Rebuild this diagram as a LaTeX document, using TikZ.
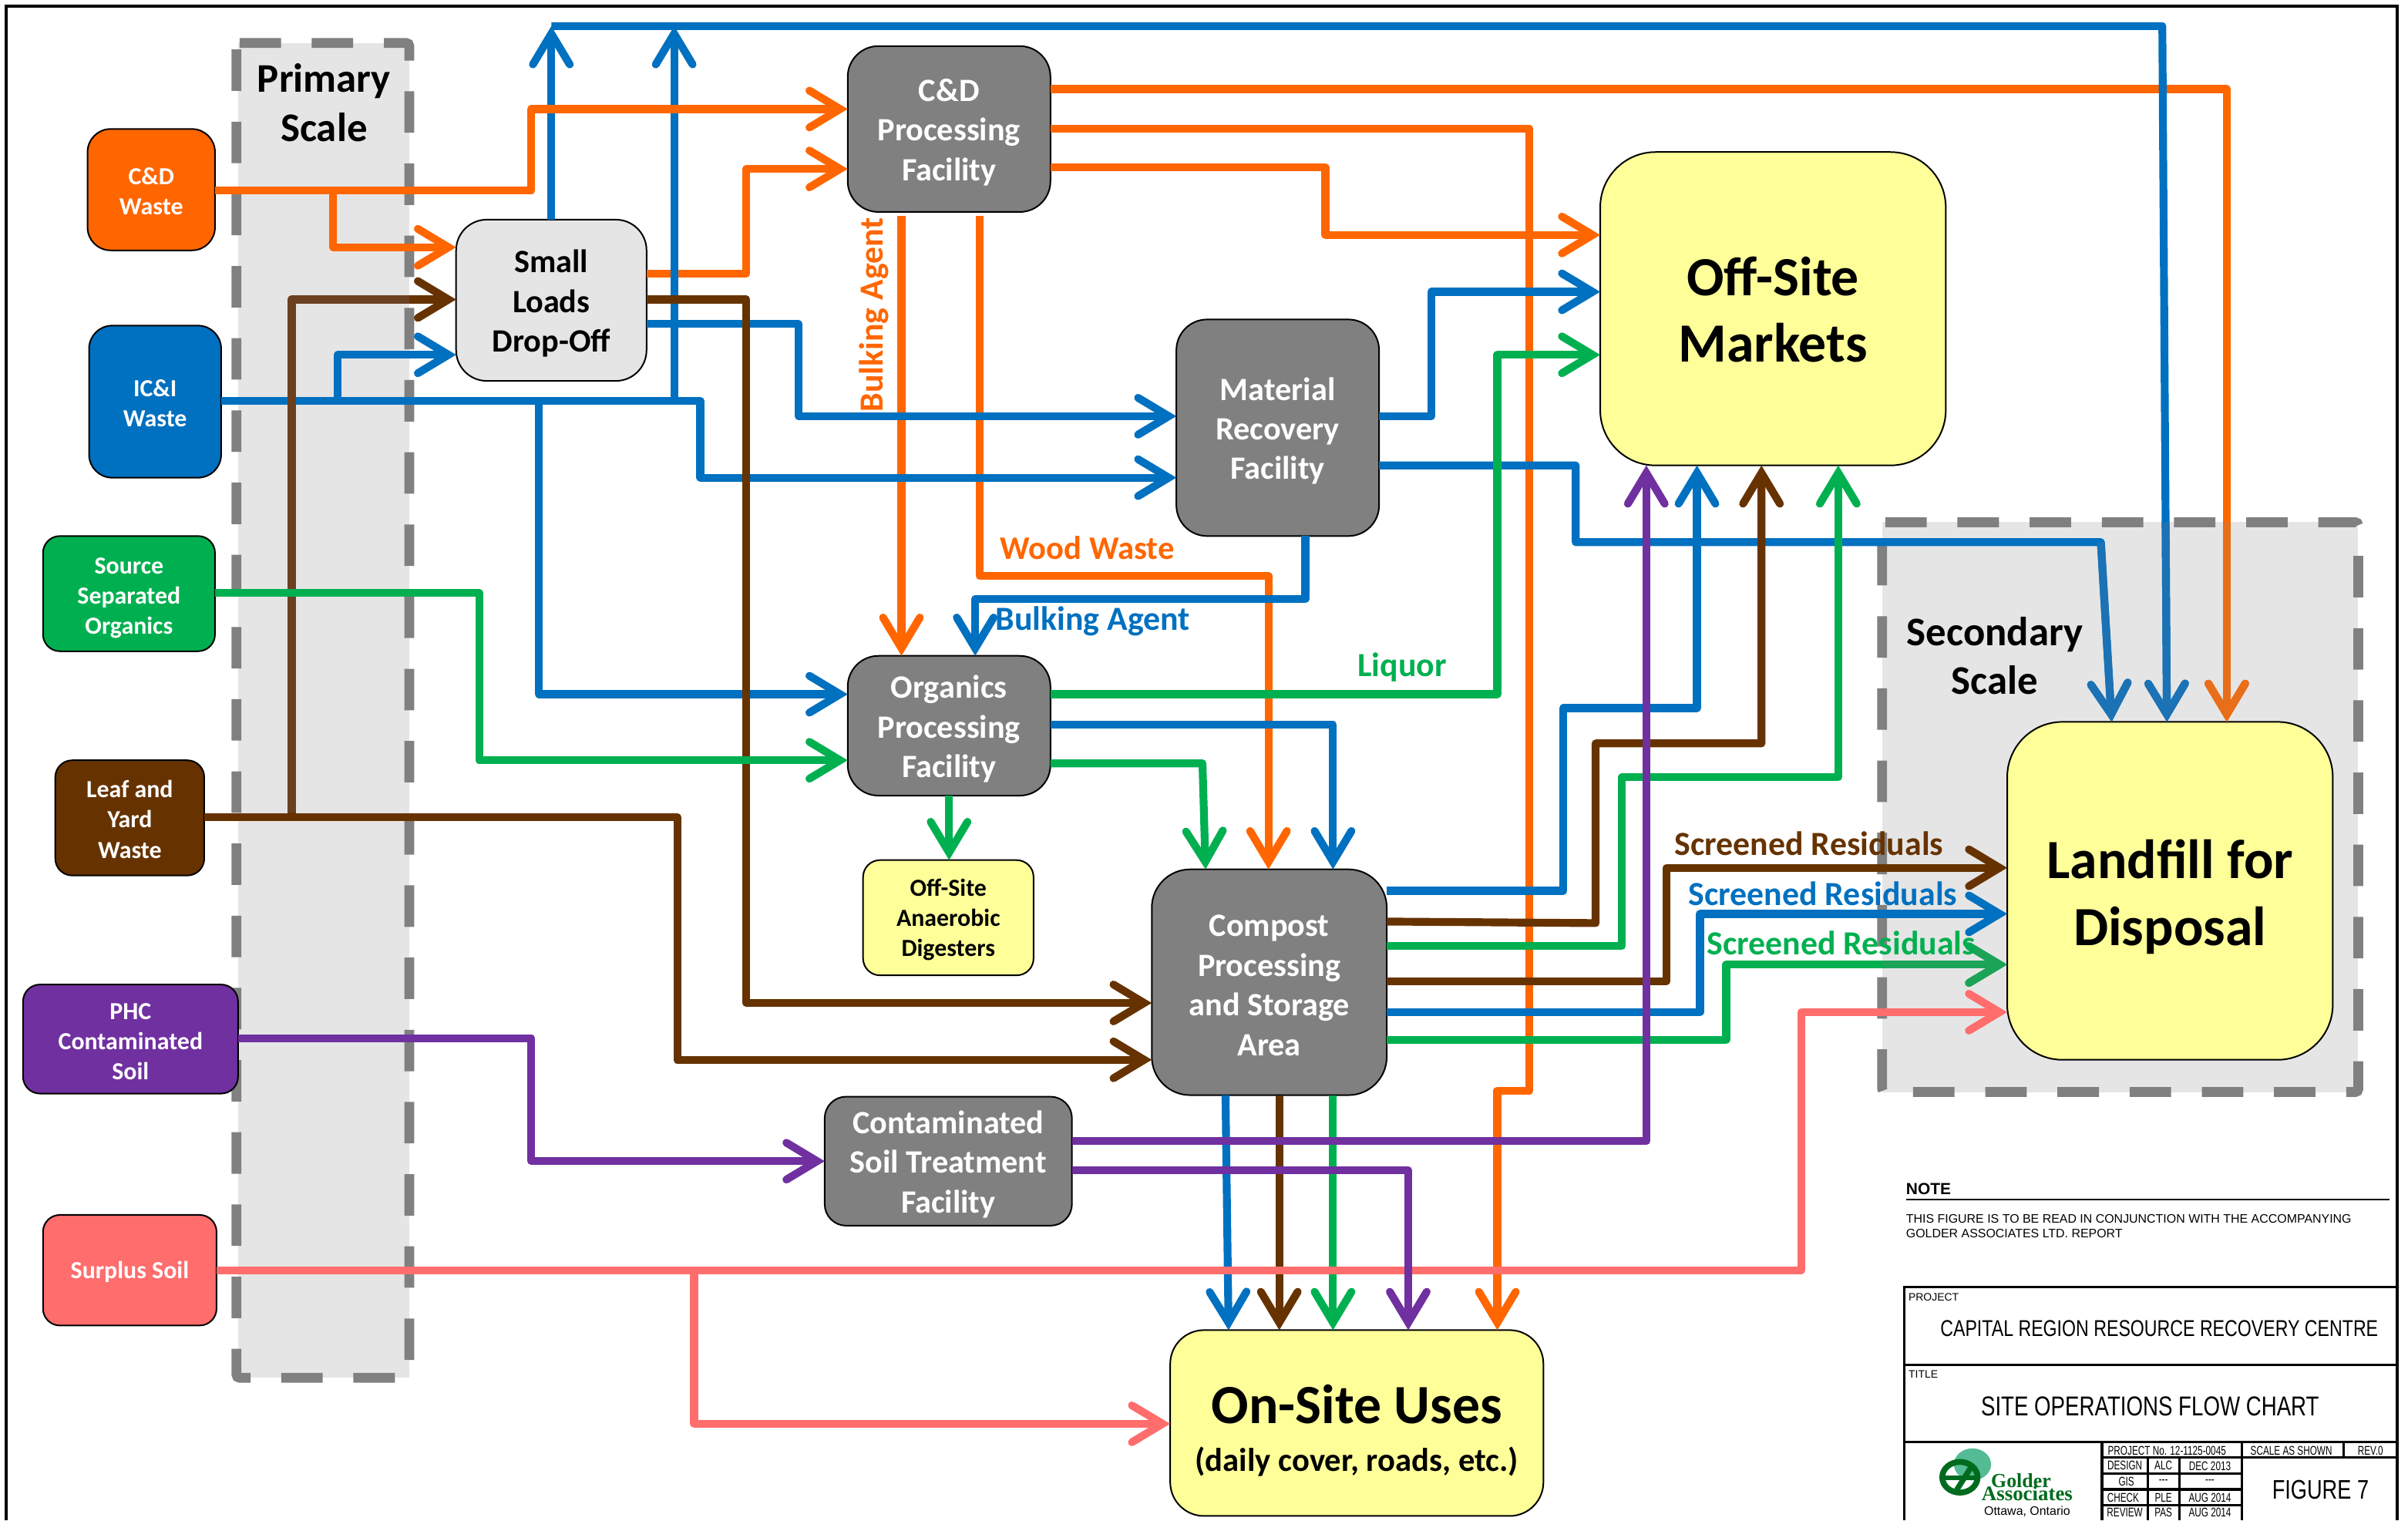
\documentclass[tikz,border=0pt]{standalone}
\usepackage{fontspec}
\setmainfont{Carlito}
\newfontfamily\narrowf[FakeStretch=0.78]{Liberation Sans}
\newfontfamily\cellf[FakeStretch=0.72]{Liberation Sans}
\newfontfamily\helvf{Liberation Sans}
\newfontfamily\serff{Liberation Serif}
\usetikzlibrary{arrows.meta}
\newcommand{\dnrule}[1]{\rule{0pt}{#1pt}}
\definecolor{corg}{HTML}{FF6600}
\definecolor{cblu}{HTML}{0070C0}
\definecolor{cbrn}{HTML}{663300}
\definecolor{cgrn}{HTML}{00B050}
\definecolor{cpur}{HTML}{7030A0}
\definecolor{cpnk}{HTML}{FF6D6D}
\definecolor{cgry}{HTML}{808080}
\definecolor{cpan}{HTML}{E5E5E5}
\definecolor{cyel}{HTML}{FFFF99}
\definecolor{cgold}{HTML}{006B1E}
\definecolor{cglobe}{HTML}{55BB95}
\definecolor{torg}{HTML}{E86E1A}
\definecolor{tblu}{HTML}{1B72B4}
\definecolor{tgrn}{HTML}{1BA358}
\definecolor{tbrn}{HTML}{6B4020}
\tikzset{
 x=1pt,y=-1pt,
 nbase/.style={draw=black,line width=1pt,outer sep=0pt,inner sep=0pt,align=center,font=\bfseries},
 srcbox/.style={nbase,rounded corners=15pt,text=white,font=\bfseries\fontsize{16}{19.7}\selectfont},
 facbox/.style={nbase,rounded corners=20pt,fill=cgry,text=white,font=\bfseries\fontsize{21.2}{25.8}\selectfont},
 bigbox/.style={nbase,rounded corners=36pt,fill=cyel,text=black,font=\bfseries\fontsize{36}{43.5}\selectfont},
 panel/.style={fill=cpan,draw=none},
 paneldash/.style={draw=cgry,line width=6.4pt,dash pattern=on 27pt off 20pt,rounded corners=2pt},
 panellabel/.style={inner sep=0pt,align=center,text=black,font=\bfseries\fontsize{26.5}{32}\selectfont},
 flow/.style={line width=5.1pt,line join=round,-{Straight Barb[length=20pt,width=24pt,line cap=round]}},
 flowlabel/.style={inner sep=0pt,font=\bfseries\fontsize{22}{26}\selectfont},
 tline/.style={draw=black,line width=1.6pt},
 tsmall/.style={inner sep=0pt,anchor=west,font=\helvf\fontsize{7}{8}\selectfont},
 tcell/.style={inner sep=0pt,font=\cellf\fontsize{8.2}{10}\selectfont},
}
\begin{document}
\begin{tikzpicture}
\useasboundingbox (0,0) rectangle (1568,990);
% frame
\draw[line width=2pt] (4,990) -- (4,4) -- (1561,4) -- (1561,990);
% panels
\fill[panel] (155,28) rectangle (266.5,897);
\draw[paneldash] (154,28) -- (266.5,28) -- (266.5,897) -- (154,897) -- cycle;
\fill[panel] (1225.6,340) rectangle (1535.6,711);
\draw[paneldash] (1225.6,340) -- (1535.6,340) -- (1535.6,711) -- (1225.6,711) -- cycle;
\node[panellabel] (lprim) at (211,67) {Primary\\Scale};
\node[panellabel] (lsec) at (1299,427) {Secondary\\Scale};
% nodes
\node[srcbox,fill=corg,minimum width=83pt,minimum height=79pt] (cdw) at (98.5,123.5) {\dnrule{13}C\&D\\Waste};
\node[srcbox,fill=cblu,minimum width=86pt,minimum height=99pt] (icw) at (101,261.5) {\dnrule{13}IC\&I\\Waste};
\node[srcbox,fill=cgrn,minimum width=112pt,minimum height=75pt,rounded corners=11pt] (sso) at (84,386.5) {\dnrule{16}Source\\Separated\\Organics};
\node[srcbox,fill=cbrn,minimum width=97pt,minimum height=75pt,rounded corners=11pt] (lyw) at (84.5,532.5) {\dnrule{13}Leaf and\\Yard\\Waste};
\node[srcbox,fill=cpur,minimum width=140pt,minimum height=71pt,rounded corners=11pt] (phc) at (85,676.5) {\dnrule{14}PHC\\Contaminated\\Soil};
\node[srcbox,fill=cpnk,minimum width=113pt,minimum height=72pt,rounded corners=11pt] (sur) at (84.5,827) {\dnrule{13.5}Surplus Soil};
\node[facbox,fill=cpan,text=black,minimum width=124pt,minimum height=105pt] (slo) at (359,195.5) {\dnrule{19}Small\\Loads\\Drop-Off};
\node[facbox,minimum width=132pt,minimum height=108pt] (cdp) at (618,84) {\dnrule{19}C\&D\\Processing\\Facility};
\node[facbox,minimum width=132pt,minimum height=141pt] (mrf) at (832,278.5) {\dnrule{19}Material\\Recovery\\Facility};
\node[facbox,minimum width=132pt,minimum height=91pt] (opf) at (618,472.5) {\dnrule{19}Organics\\Processing\\Facility};
\node[nbase,rounded corners=11pt,fill=cyel,font=\bfseries\fontsize{16}{19.5}\selectfont,minimum width=111pt,minimum height=75pt] (oad) at (617.5,597.5) {\dnrule{14}Off-Site\\Anaerobic\\Digesters};
\node[facbox,minimum width=153pt,minimum height=147pt,rounded corners=25pt] (cps) at (826.5,639.5) {\dnrule{18}Compost\\Processing\\and Storage\\Area};
\node[facbox,minimum width=161pt,minimum height=84pt,rounded corners=14pt] (cst) at (617.5,756) {\dnrule{19}Contaminated\\Soil Treatment\\Facility};
\node[bigbox,minimum width=225pt,minimum height=204pt] (osm) at (1154.5,201) {\dnrule{26.5}Off-Site\\Markets};
\node[bigbox,minimum width=212pt,minimum height=220pt] (ldf) at (1413,580) {\dnrule{33}Landfill for\\Disposal};
\node[nbase,rounded corners=22pt,fill=cyel,minimum width=243pt,minimum height=121pt,font=\bfseries\fontsize{36}{40}\selectfont] (osu) at (883.5,926.5) {\dnrule{35}On-Site Uses\\[-9pt]{\fontsize{21.4}{26}\selectfont (daily cover, roads, etc.)}};
% junctions
\coordinate (jcd) at (217,124);
\coordinate (jicA) at (220,261);
\coordinate (jicB) at (351,261);
\coordinate (jicC) at (439,261);
\coordinate (jly) at (190,532);
\coordinate (jsu) at (452,827);
\coordinate (busA) at (359,17);
\coordinate (busB) at (439,17);
\coordinate (cdpa) at (587,140.5);
\coordinate (cdpb) at (638,140.5);
% orange (group 1)
\draw[flow,corg] (slo.east |- 0,178) -- (486,178) -- (486,110) -- (cdp.west |- 0,110);
\draw[flow,corg] (cdp.east |- 0,58) -- (1450,58) -- (1450,0 |- ldf.north);
\draw[flow,corg] (cdp.east |- 0,84) -- (996,84) -- (996,710) -- (975,710) -- (975,0 |- osu.north);
\draw[flow,corg] (cdp.east |- 0,109) -- (863,109) -- (863,153) -- (osm.west |- 0,153);
\draw[flow,corg] (cdpa) -- (587,0 |- opf.north);
\draw[flow,corg] (cdpb) -- (638,375) -- (826,375) -- (826,0 |- cps.north);
% blue
\draw[flow,cblu] (slo.north) -- (busA);
\draw[flow,cblu] (jicC) -- (busB);
\draw[flow,cblu] (busA) -- (1408,17) -- (1411,0 |- ldf.north);
\draw[flow,cblu] (icw.east |- 0,261) -- (456,261) -- (456,311) -- (mrf.west |- 0,311);
\draw[flow,cblu] (jicA) -- (220,231) -- (slo.west |- 0,231);
\draw[flow,cblu] (jicB) -- (351,452) -- (opf.west |- 0,452);
\draw[flow,cblu] (slo.east |- 0,211) -- (520,211) -- (520,271) -- (mrf.west |- 0,271);
\draw[flow,cblu] (mrf.east |- 0,271) -- (932,271) -- (932,190) -- (osm.west |- 0,190);
\draw[flow,cblu] (mrf.east |- 0,303) -- (1026,303) -- (1026,353) -- (1368,353) -- (1375,0 |- ldf.north);
\draw[flow,cblu] (850,0 |- mrf.south) -- (850,390) -- (635,390) -- (635,0 |- opf.north);
\draw[flow,cblu] (opf.east |- 0,472) -- (868,472) -- (868,0 |- cps.north);
\draw[flow,cblu] (cps.east |- 0,580) -- (1018,580) -- (1018,461) -- (1105,461) -- (1105,0 |- osm.south);
\draw[flow,cblu] (cps.east |- 0,659) -- (1107,659) -- (1107,595) -- (ldf.west |- 0,595);
\draw[flow,cblu] (798,0 |- cps.south) -- (800,0 |- osu.north);
% orange over blue
\draw[flow,corg] (cdw.east |- 0,124) -- (346,124) -- (346,71) -- (cdp.west |- 0,71);
\draw[flow,corg] (jcd) -- (217,161) -- (slo.west |- 0,161);
% brown
\draw[flow,cbrn] (lyw.east |- 0,532) -- (441,532) -- (441,690) -- (cps.west |- 0,690);
\draw[flow,cbrn] (jly) -- (190,195) -- (slo.west |- 0,195);
\begin{scope}
\clip (155,190) rectangle (266.5,529);
\draw[line width=5.1pt,line join=round,tbrn] (jly) -- (190,195) -- (266.5,195);
\end{scope}
\draw[flow,cbrn] (slo.east |- 0,195) -- (486,195) -- (486,653) -- (cps.west |- 0,653);
\draw[flow,cbrn] (cps.east |- 0,600) -- (1039,601) -- (1039,484) -- (1147,484) -- (1147,0 |- osm.south);
\draw[flow,cbrn] (cps.east |- 0,639) -- (1085,639) -- (1085,565) -- (ldf.west |- 0,565);
\draw[flow,cbrn] (833,0 |- cps.south) -- (833,0 |- osu.north);
% green
\draw[flow,cgrn] (sso.east |- 0,386) -- (312,386) -- (312,495) -- (opf.west |- 0,495);
\draw[flow,cgrn] (opf.east |- 0,452) -- (975,452) -- (975,231) -- (osm.west |- 0,231);
\draw[flow,cgrn] (opf.east |- 0,497) -- (783,497) -- (785,0 |- cps.north);
\draw[flow,cgrn] (opf.south) -- (oad.north -| opf.south);
\draw[flow,cgrn] (cps.east |- 0,616) -- (1056,616) -- (1056,506) -- (1197,506) -- (1197,0 |- osm.south);
\draw[flow,cgrn] (cps.east |- 0,677) -- (1124,677) -- (1124,628) -- (ldf.west |- 0,628);
\draw[flow,cgrn] (868,0 |- cps.south) -- (868,0 |- osu.north);
% pink
\draw[flow,cpnk] (sur.east |- 0,827) -- (1173,827) -- (1173,659) -- (ldf.west |- 0,659);
\draw[flow,cpnk] (jsu) -- (452,927) -- (osu.west |- 0,927);
% purple
\draw[flow,cpur] (phc.east |- 0,676) -- (346,676) -- (346,756) -- (cst.west |- 0,756);
\draw[flow,cpur] (cst.east |- 0,743) -- (1072,743) -- (1072,0 |- osm.south);
\draw[flow,cpur] (cst.east |- 0,762) -- (917,762) -- (917,0 |- osu.north);
% tinted parts of lines under the secondary panel
\begin{scope}
\clip (1225.6,357) rectangle (1306,711) (1306,340) rectangle (1535.6,470);
\draw[flow,tblu] (1368,353) -- (1375,0 |- ldf.north);
\draw[flow,tblu] (1408,17) -- (1411,0 |- ldf.north);
\draw[flow,torg] (1450,58) -- (1450,0 |- ldf.north);
\draw[flow,tgrn] (1124,628) -- (ldf.west |- 0,628);
\end{scope}
% labels
\node[flowlabel,text=corg,rotate=90] (lba) at (569,205) {Bulking Agent};
\node[flowlabel,text=corg,font=\bfseries\fontsize{21.4}{26}\selectfont] (lww) at (708,356.5) {Wood Waste};
\node[flowlabel,text=cblu] (lbb) at (711.5,404.5) {Bulking Agent};
\node[flowlabel,text=cgrn] (lliq) at (913,434.5) {Liquor};
\node[flowlabel,text=cbrn] (lsa) at (1178,549) {Screened Residuals};
\node[flowlabel,text=cblu] (lsb) at (1187,582) {Screened Residuals};
\node[flowlabel,text=cgrn] (lsc) at (1199,614) {Screened Residuals};
% note
\node[inner sep=0pt,anchor=west,font=\helvf\bfseries\fontsize{10.5}{12}\selectfont] (nnote) at (1241,774) {NOTE};
\draw[line width=1pt] (1241,781) -- (1556,781);
\node[inner sep=0pt,anchor=north west,align=left,font=\helvf\fontsize{8}{9.6}\selectfont] (ntext) at (1241,790.5) {THIS FIGURE IS TO BE READ IN CONJUNCTION WITH THE ACCOMPANYING\\GOLDER ASSOCIATES LTD. REPORT};
% title block
\draw[tline] (1240,990) -- (1240,838) -- (1561,838);
\draw[tline] (1240,888.7) -- (1561,888.7);
\draw[tline] (1240,939) -- (1561,939);
\draw[tline] (1368.7,939) -- (1368.7,990);
\draw[tline] (1459.7,939) -- (1459.7,990);
\draw[tline] (1398.5,949) -- (1398.5,990);
\draw[tline] (1419,949) -- (1419,990);
\draw[tline] (1526,939) -- (1526,949);
\draw[tline] (1368.7,949) -- (1561,949);
\draw[tline] (1368.7,959.5) -- (1459.7,959.5);
\draw[tline] (1368.7,969.7) -- (1459.7,969.7);
\draw[tline] (1368.7,980) -- (1459.7,980);
\node[tsmall] (tpr) at (1242.6,844.4) {PROJECT};
\node[tsmall] (ttl) at (1242.6,895) {TITLE};
\node[inner sep=0pt,font=\narrowf\fontsize{14.9}{16}\selectfont] (tcap) at (1406,864.7) {CAPITAL REGION RESOURCE RECOVERY CENTRE};
\node[inner sep=0pt,font=\narrowf\fontsize{17.8}{19}\selectfont] (tsite) at (1400,915.5) {SITE OPERATIONS FLOW CHART};
\node[inner sep=0pt,font=\narrowf\fontsize{17.5}{19}\selectfont] (tfig) at (1511,970) {FIGURE 7};
\node[tcell] (c1) at (1411,944.3) {PROJECT No. 12-1125-0045};
\node[tcell] (c2) at (1492,944.3) {SCALE AS SHOWN};
\node[tcell] (c3) at (1543.5,944.5) {REV.0};
\node[tcell] (c4) at (1383.6,954) {DESIGN};
\node[tcell] (c5) at (1408.7,954) {ALC};
\node[tcell] (c6) at (1439,954.5) {DEC 2013};
\node[tcell] (c7) at (1384.6,964.5) {GIS};
\node[tcell] (c8) at (1408.7,964.5) {---};
\node[tcell] (c9) at (1439,964.5) {---};
\node[tcell] (c10) at (1382.5,975) {CHECK};
\node[tcell] (c11) at (1408.7,975) {PLE};
\node[tcell] (c12) at (1439,975) {AUG 2014};
\node[tcell] (c13) at (1383.6,984.6) {REVIEW};
\node[tcell] (c14) at (1408.7,984.6) {PAS};
\node[tcell] (c15) at (1439,984.6) {AUG 2014};
% logo
\fill[cglobe] (1284.4,953.4) ellipse (12.1 and 10.4);
\draw[cgold,line width=3.8pt] (1276.2,961.8) ellipse (11.5 and 10);
\draw[cgold,line width=3pt] (1265,962) -- (1287,962);
\draw[cgold,line width=3.6pt] (1273.2,971.5) -- (1284.5,953.6);
\node[inner sep=0pt,text=cgold,font=\serff\bfseries\fontsize{13}{14}\selectfont] (lg1) at (1316,963.8) {Golder};
\node[inner sep=0pt,text=cgold,font=\serff\bfseries\fontsize{13.5}{14}\selectfont] (lg2) at (1320,972.4) {Associates};
\node[inner sep=0pt,font=\helvf\fontsize{8}{9}\selectfont] (lg3) at (1320,984) {Ottawa, Ontario};
\end{tikzpicture}
\end{document}
